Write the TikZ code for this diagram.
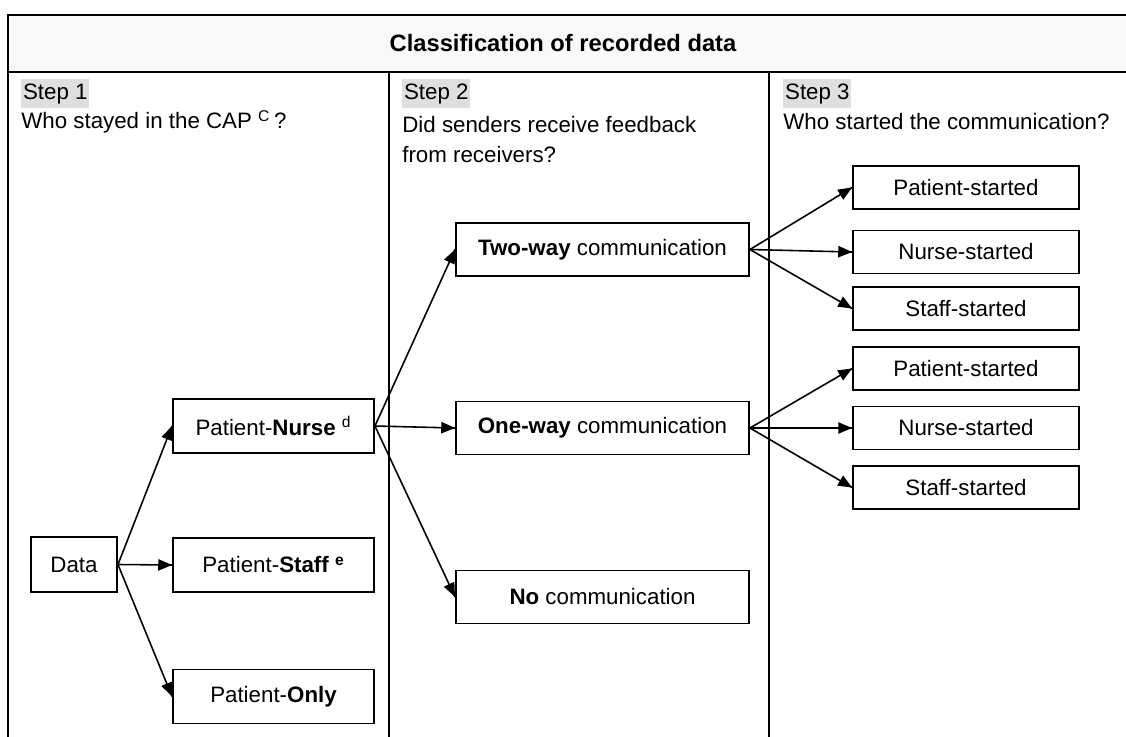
\documentclass[tikz,border=0pt]{standalone}
\usepackage{fontspec}
\setmainfont{Liberation Sans}
\usetikzlibrary{arrows}
\usetikzlibrary{decorations.markings}
\tikzset{arr/.style = {line width=0.9pt, decoration={markings,
                                  mark=at position 1 with {\arrow[scale=0.95]{triangle 45}}},
                      postaction={decorate}}}
\tikzset{frame/.style = {line width=1.1pt}}
\tikzset{databox/.style = {draw, line width=1.1pt, inner sep=0, minimum width=1.72cm, minimum height=1.1cm}}
\tikzset{catbox/.style = {draw, line width=1.1pt, inner sep=0, minimum width=4.02cm, minimum height=1.08cm}}
\tikzset{commbox/.style = {draw, line width=1.1pt, inner sep=0, minimum width=5.86cm, minimum height=1.06cm}}
\tikzset{startbox/.style = {draw, line width=1.1pt, inner sep=0, minimum width=4.52cm, minimum height=0.86cm}}
\tikzset{stephead/.style = {fill=gray!25, anchor=north west, inner xsep=1pt, inner ysep=0, minimum height=0.58cm}}
\tikzset{question/.style = {anchor=north west, align=left, inner sep=0}}

\begin{document}
\begin{tikzpicture}[x=0.02cm, y=-0.02cm, font=\fontsize{12.7}{17}\selectfont]
    \useasboundingbox (0,0) rectangle (1126,737);

    % table frame
    \fill [gray!5] (8,15) rectangle (1126,72);
    \draw [frame] (1126,15) -- (8,15) -- (8,737);
    \draw [frame] (8,72) -- (1126,72);
    \draw [frame] (389,72) -- (389,737);
    \draw [frame] (769,72) -- (769,737);

    \node [font=\fontsize{13.5}{16}\selectfont\bfseries] (title) at (563,43.5) {Classification of recorded data};

    \node [stephead] (s1) at (21,79) {Step 1};
    \node [stephead] (s2) at (402,79) {Step 2};
    \node [stephead] (s3) at (783,79) {Step 3};
    \node [question] (q1) at (21,110) {Who stayed in the CAP \textsuperscript{C}\,?};
    \node [question] (q2) at (402,116) {Did senders receive feedback\\from receivers?};
    \node [question] (q3) at (783,113) {Who started the communication?};

    % step 1
    \node [databox] (data) at (74,564.5) {Data};
    \node [catbox] (pn) at (273.5,426) {Patient-\textbf{Nurse} \textsuperscript{d}};
    \node [catbox] (ps) at (273.5,565) {Patient-\textbf{Staff} \textsuperscript{\textbf{e}}};
    \node [catbox] (po) at (273.5,696.5) {Patient-\textbf{Only}};

    % step 2
    \node [commbox] (two) at (602.5,249.5) {\textbf{Two-way} communication};
    \node [commbox] (one) at (602.5,428) {\textbf{One-way} communication};
    \node [commbox] (no) at (602.5,597) {\textbf{No} communication};

    % step 3
    \node [startbox] (tp) at (966,187.5) {Patient-started};
    \node [startbox] (tn) at (966,252) {Nurse-started};
    \node [startbox] (ts) at (966,308.5) {Staff-started};
    \node [startbox] (op) at (966,368.5) {Patient-started};
    \node [startbox] (on) at (966,428) {Nurse-started};
    \node [startbox] (os) at (966,487.5) {Staff-started};

    \draw [arr] (data.east) -- (pn.west);
    \draw [arr] (data.east) -- (ps.west);
    \draw [arr] (data.east) -- (po.west);

    \draw [arr] (pn.east) -- (two.west);
    \draw [arr] (pn.east) -- (one.west);
    \draw [arr] (pn.east) -- (no.west);

    \draw [arr] (two.east) -- (tp.west);
    \draw [arr] (two.east) -- (tn.west);
    \draw [arr] (two.east) -- (ts.west);
    \draw [arr] (one.east) -- (op.west);
    \draw [arr] (one.east) -- (on.west);
    \draw [arr] (one.east) -- (os.west);
\end{tikzpicture}
\end{document}
